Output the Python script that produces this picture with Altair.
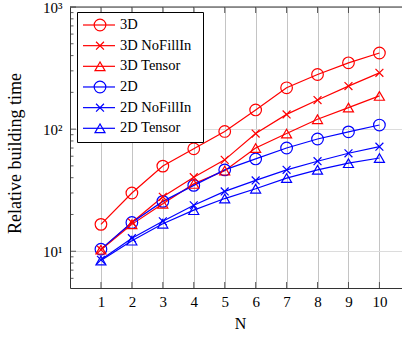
import altair as alt
import pandas as pd

# ---- data ----
N = list(range(1, 11))
series_names = ["3D", "3D NoFillIn", "3D Tensor", "2D", "2D NoFillIn", "2D Tensor"]
v_3d = [16.6, 30.0, 49.8, 69.0, 95.7, 143.6, 218.0, 280.0, 349.0, 420.0]
v_3d_nofill = [10.3, 17.2, 27.9, 40.4, 56.0, 92.0, 132.0, 173.0, 225.0, 289.0]
v_3d_tensor = [10.3, 16.6, 24.5, 35.6, 45.7, 70.0, 92.0, 120.5, 150.0, 187.0]
v_2d = [10.4, 17.2, 25.6, 34.6, 46.4, 57.0, 70.0, 83.0, 95.0, 108.0]
v_2d_nofill = [8.5, 12.8, 17.6, 23.8, 30.9, 38.0, 46.4, 54.6, 63.4, 71.8]
v_2d_tensor = [8.4, 12.2, 16.8, 21.7, 27.0, 32.5, 39.7, 46.4, 52.6, 58.0]
all_values = [v_3d, v_3d_nofill, v_3d_tensor, v_2d, v_2d_nofill, v_2d_tensor]

y_major = [10, 100, 1000]
y_minor = [6, 7, 8, 9, 20, 30, 40, 50, 60, 70, 80, 90,
           200, 300, 400, 500, 600, 700, 800, 900]

# ---- styles ----
RED, BLUE = "#ff0000", "#0000ff"
colors = [RED, RED, RED, BLUE, BLUE, BLUE]
X_PATH = "M-1,-1L1,1M-1,1L1,-1"
shapes = ["circle", X_PATH, "triangle-up"] * 2
# marker groups: (series using it, symbol size)
marker_groups = [
    (["3D", "2D"], 135),
    (["3D NoFillIn", "2D NoFillIn"], 62),
    (["3D Tensor", "2D Tensor"], 100),
]
SERIF = "Liberation Serif"
AX = "#333333"

rows = []
for name, vals in zip(series_names, all_values):
    for n, v in zip(N, vals):
        rows.append({"N": n, "value": v, "series": name})
df = pd.DataFrame(rows)

W, H = 332, 281

xs = alt.Scale(domain=[0, 10.73], nice=False, zero=False)
ys = alt.Scale(type="log", domain=[5, 1000], nice=False)
color_scale = alt.Scale(domain=series_names, range=colors)
shape_scale = alt.Scale(domain=series_names, range=shapes)

x_axis = alt.Axis(values=N, grid=True, gridColor="#c4c4c4", gridWidth=1,
                  ticks=False, domainColor=AX, labelFont=SERIF, labelFontSize=15,
                  labelColor="black", labelPadding=6, title="N", titleFont=SERIF,
                  titleFontSize=16, titleFontWeight="normal", titleColor="black",
                  titleX=170, titleY=40, titleBaseline="alphabetic")
y_axis = alt.Axis(values=y_major,
                  labelExpr="datum.value == 10 ? '10¹' : datum.value == 100 ? '10²' : '10³'",
                  grid=True, gridColor="#dcdcdc", gridWidth=1, ticks=False,
                  domainColor=AX, labelFont=SERIF, labelFontSize=15, labelColor="black",
                  labelPadding=8, title="Relative building time", titleFont=SERIF,
                  titleFontSize=18, titleFontWeight="normal", titleColor="black",
                  titleX=-55, titleY=146, titleBaseline="middle", titleAngle=270)


def xe():
    return alt.X("N:Q", scale=xs, axis=x_axis)


def ye():
    return alt.Y("value:Q", scale=ys, axis=y_axis)


color_enc = alt.Color("series:N", scale=color_scale, legend=None)
shape_enc = alt.Shape("series:N", scale=shape_scale, legend=None)

base = alt.Chart(df)
lines = base.mark_line(strokeWidth=1.2).encode(
    x=xe(), y=ye(), color=color_enc, detail="series:N")
point_layers = [
    base.transform_filter(alt.FieldOneOfPredicate(field="series", oneOf=names))
    .mark_point(filled=False, strokeWidth=1.2, opacity=1, size=sz)
    .encode(x=xe(), y=ye(), color=color_enc, shape=shape_enc)
    for names, sz in marker_groups
]

# inward tick marks (pgfplots style)
ymin_ticks = alt.Chart(pd.DataFrame({"value": y_minor})).mark_rule(
    color=AX, strokeWidth=0.8).encode(y=ye(), x=alt.value(0), x2=alt.value(3.5))
ymaj_ticks = alt.Chart(pd.DataFrame({"value": y_major})).mark_rule(
    color=AX, strokeWidth=0.8).encode(y=ye(), x=alt.value(0), x2=alt.value(6))
xb_ticks = alt.Chart(pd.DataFrame({"N": N})).mark_rule(
    color=AX, strokeWidth=0.8).encode(x=xe(), y=alt.value(H), y2=alt.value(H - 6))
xt_ticks = alt.Chart(pd.DataFrame({"N": N})).mark_rule(
    color=AX, strokeWidth=0.8).encode(x=xe(), y=alt.value(0), y2=alt.value(6))
top_border = alt.Chart(pd.DataFrame({"a": [0]})).mark_rule(
    color=AX, strokeWidth=1).encode(x=alt.value(0), x2=alt.value(W), y=alt.value(0))

plot = alt.layer(lines, ymin_ticks, ymaj_ticks, xb_ticks, xt_ticks, top_border, *point_layers)

# legend (drawn manually: line + marker + label)
leg_df = pd.DataFrame({"series": series_names})


def leg_y():
    return alt.Y("series:N",
                 scale=alt.Scale(type="point", domain=series_names, range=[18, 121.3], padding=0),
                 axis=None)


box = alt.Chart(pd.DataFrame({"a": [0]})).mark_rect(
    fill="white", stroke="black", strokeWidth=1).encode(
    x=alt.value(7.5), x2=alt.value(133.5), y=alt.value(5.5), y2=alt.value(135.5))
leg_lines = alt.Chart(leg_df).mark_rule(strokeWidth=1.2).encode(
    x=alt.value(13), x2=alt.value(45), y=leg_y(), color=color_enc)
leg_pts = [
    alt.Chart(leg_df).transform_filter(alt.FieldOneOfPredicate(field="series", oneOf=names))
    .mark_point(filled=False, strokeWidth=1.2, opacity=1, size=sz)
    .encode(x=alt.value(30), y=leg_y(), color=color_enc, shape=shape_enc)
    for names, sz in marker_groups
]
leg_txt = alt.Chart(leg_df).mark_text(
    align="left", baseline="middle", font=SERIF, fontSize=14.5, color="black").encode(
    x=alt.value(50), y=leg_y(), text="series:N")
legend = alt.layer(box, leg_lines, *leg_pts, leg_txt)

chart = alt.layer(plot, legend).resolve_scale(y="independent").properties(
    width=W, height=H,
    autosize=alt.AutoSizeParams(type="none"),
    padding={"left": 70, "top": 7, "right": 0, "bottom": 50},
    background="white",
).configure_view(stroke=None)

chart.save("out.html", embed_options={"renderer": "svg", "actions": False})
